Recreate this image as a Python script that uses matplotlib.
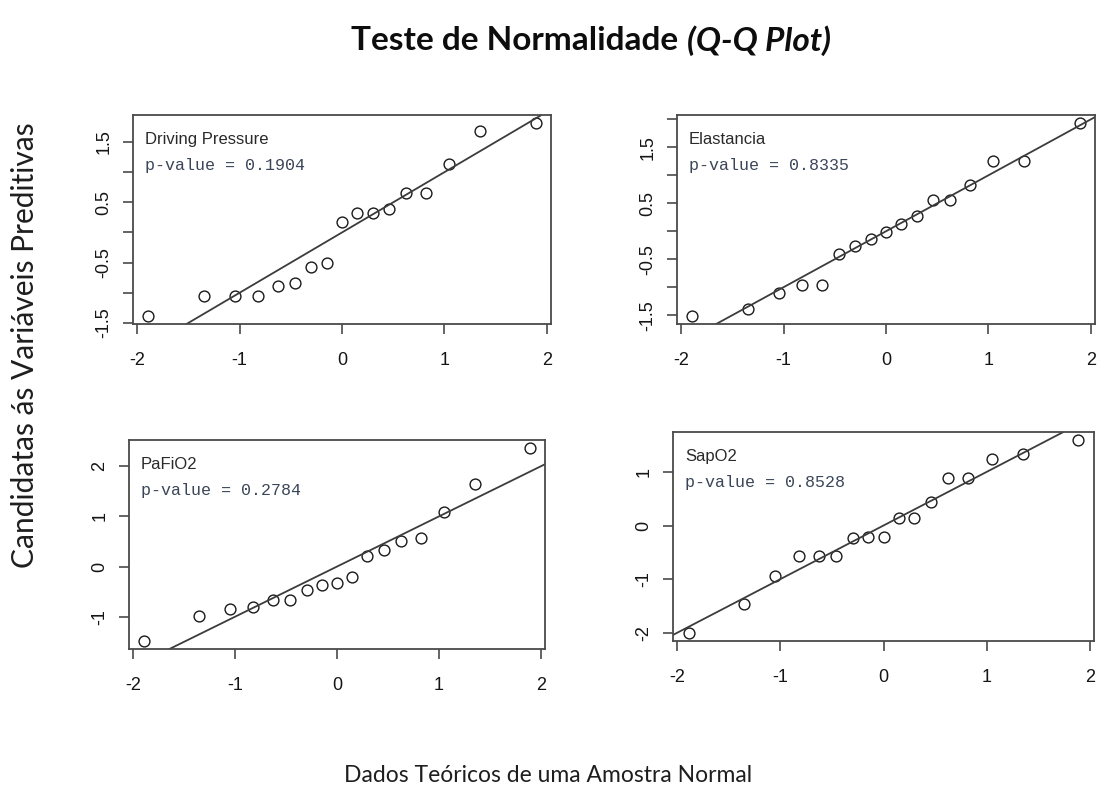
import matplotlib
matplotlib.use("Agg")
import matplotlib.pyplot as plt

# ---------------- data ----------------
theoretical_q = [-1.890, -1.352, -1.049, -0.821, -0.629, -0.458, -0.299, -0.148, 0.0,
                 0.148, 0.299, 0.458, 0.629, 0.821, 1.049, 1.352, 1.890]

driving_pressure = [-1.39, -1.05, -1.05, -1.05, -0.88, -0.84, -0.58, -0.50, 0.18,
                    0.32, 0.32, 0.39, 0.66, 0.66, 1.14, 1.69, 1.82]
elastancia = [-1.52, -1.39, -1.11, -0.97, -0.97, -0.41, -0.26, -0.14, -0.01,
              0.13, 0.27, 0.56, 0.55, 0.83, 1.25, 1.25, 1.94]
pafio2 = [-1.49, -0.98, -0.85, -0.81, -0.66, -0.66, -0.47, -0.36, -0.33,
          -0.21, 0.22, 0.33, 0.50, 0.57, 1.09, 1.64, 2.37]
sapo2 = [-2.01, -1.47, -0.94, -0.57, -0.57, -0.57, -0.24, -0.22, -0.22,
         0.14, 0.14, 0.44, 0.88, 0.88, 1.24, 1.34, 1.60]

panel_names = ["Driving Pressure", "Elastancia", "PaFiO2", "SapO2"]
p_values = ["0.1904", "0.8335", "0.2784", "0.8528"]

xticks = [-2, -1, 0, 1, 2]
xticklabels = ["-2", "-1", "0", "1", "2"]
yticks_dp = [-1.5, -1.0, -0.5, 0.0, 0.5, 1.0, 1.5]
yticklabels_dp = ["-1.5", "", "-0.5", "", "0.5", "", "1.5"]
yticks_el = [-1.5, -1.0, -0.5, 0.0, 0.5, 1.0, 1.5, 2.0]
yticklabels_el = ["-1.5", "", "-0.5", "", "0.5", "", "1.5", ""]
yticks_pa = [-1, 0, 1, 2]
yticklabels_pa = ["-1", "0", "1", "2"]
yticks_sa = [-2, -1, 0, 1]
yticklabels_sa = ["-2", "-1", "0", "1"]

title_main = "Teste de Normalidade"
title_italic = "(Q-Q Plot)"
xlabel_text = "Dados Teóricos de uma Amostra Normal"
ylabel_text = "Candidatas ás Variáveis Preditivas"

# ---------------- figure ----------------
W, H = 1097, 793
fig = plt.figure(figsize=(W / 100, H / 100), dpi=100)
fig.patch.set_facecolor("white")

def rect(l, t, r, b):
    return [l / W, 1 - b / H, (r - l) / W, (b - t) / H]

rects = [rect(133, 115, 551, 324), rect(677, 115, 1095, 324),
         rect(129, 440, 545, 649), rect(673, 432, 1094, 641)]
series = [driving_pressure, elastancia, pafio2, sapo2]
ytick_sets = [(yticks_dp, yticklabels_dp), (yticks_el, yticklabels_el),
              (yticks_pa, yticklabels_pa), (yticks_sa, yticklabels_sa)]

frame_col = "#4a4a4a"
for r, ys, name, pv, (yt, ytl) in zip(rects, series, panel_names, p_values, ytick_sets):
    ax = fig.add_axes(r)
    ax.plot(theoretical_q, ys, linestyle="none", marker="o", mfc="none",
            mec="#1a1a1a", ms=7.8, mew=1.0)
    ax.margins(x=0.04, y=0.04)
    ax.axline((0, 0), slope=1, color="#3c3c3c", lw=1.3)
    ax.set_xticks(xticks)
    ax.set_xticklabels(xticklabels)
    ax.set_yticks(yt)
    ax.set_yticklabels(ytl)
    for s in ax.spines.values():
        s.set_color(frame_col)
        s.set_linewidth(1.3)
    ax.tick_params(axis="both", direction="out", length=7, width=1.2,
                   color=frame_col, labelsize=13, labelcolor="#151515")
    ax.tick_params(axis="x", pad=13)
    ax.tick_params(axis="y", pad=8, labelrotation=90)
    for lab in ax.get_yticklabels():
        lab.set_va("center")
    for lab in ax.get_xticklabels() + ax.get_yticklabels():
        lab.set_family("Liberation Sans")
    ax.text(0.028, 0.885, name, transform=ax.transAxes, ha="left", va="center",
            fontsize=12, family="Liberation Sans", color="#2a2a2a")
    ax.text(0.028, 0.76, "p-value = " + pv, transform=ax.transAxes, ha="left",
            va="center", fontsize=12, family="Liberation Mono", color="#3a4658")

# title: bold + bold italic part
fig.canvas.draw()
renderer = fig.canvas.get_renderer()
t1 = fig.text(0, 1 - 41 / H, title_main, fontsize=24, fontweight="bold",
              family="Lato", ha="left", va="center", color="#0d0d0d")
t2 = fig.text(0, 1 - 41 / H, title_italic, fontsize=24, fontweight="bold",
              fontstyle="italic", family="Lato", ha="left", va="center", color="#0d0d0d")
w1 = t1.get_window_extent(renderer).width
w2 = t2.get_window_extent(renderer).width
gap = 8
total = w1 + gap + w2
x0 = 591 - total / 2
t1.set_x(x0 / W)
t2.set_x((x0 + w1 + gap) / W)

fig.text(548 / W, 1 - 775 / H, xlabel_text, fontsize=16.5, family="Lato",
         ha="center", va="center", color="#1e1e1e")
fig.text(25 / W, 1 - 345 / H, ylabel_text, fontsize=21.5, family="Lato",
         ha="center", va="center", rotation=90, color="#1e1e1e")

fig.savefig("out.png", dpi=100)
